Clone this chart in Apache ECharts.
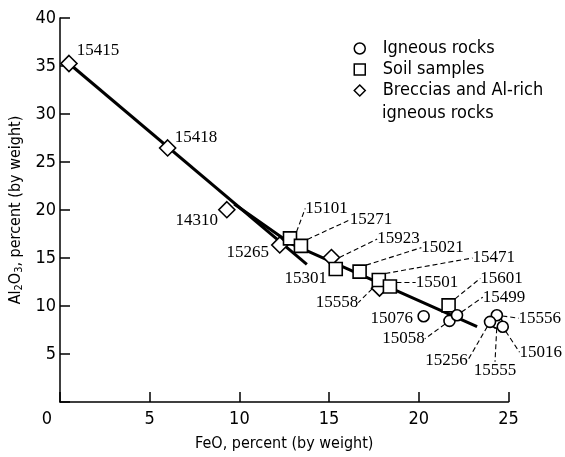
<!DOCTYPE html>
<html>
<head>
<meta charset="utf-8">
<script src="https://cdn.jsdelivr.net/npm/echarts@6/dist/echarts.min.js"></script>
<style>
  html, body { margin: 0; padding: 0; background: #fff; }
  #chart { width: 565px; height: 457px; }
</style>
</head>
<body>
<div id="chart"></div>
<script>
// ---- Data ----
const igneousNames = ['15555', '15076', '15058', '15499', '15556', '15256', '15016'];
const igneousFeO   = [24.36, 20.27, 21.71, 22.13, 24.35, 23.97, 24.68];
const igneousAl2O3 = [8.25, 8.94, 8.45, 9.04, 9.04, 8.35, 7.84];

const soilNames = ['15101', '15271', '15301', '15021', '15471', '15501', '15601'];
const soilFeO   = [12.82, 13.43, 15.37, 16.70, 17.77, 18.39, 21.66];
const soilAl2O3 = [17.04, 16.26, 13.85, 13.58, 12.71, 12.03, 10.07];

const brecciaNames = ['15415', '15418', '14310', '15265', '15923', '15558'];
const brecciaFeO   = [0.5, 6.0, 9.3, 12.25, 15.13, 17.81];
const brecciaAl2O3 = [35.26, 26.46, 20.03, 16.36, 15.05, 11.86];

const lineA_FeO   = [0.5, 13.76];
const lineA_Al2O3 = [35.26, 14.33];
const lineB_FeO   = [9.71, 12.87, 23.25];
const lineB_Al2O3 = [20.62, 16.49, 7.84];

const seriesNames = ['Igneous rocks', 'Soil samples', 'Breccias and Al-rich igneous rocks'];
const xTickStep = 5, xMin = 0, xMax = 25;
const yTickStep = 5, yMin = 0, yMax = 40;

// ---- Label placement (pixel offsets of each sample label from its marker) ----
const labelOffsets = {
  '15415': [29, -12.5], '15418': [28.4, -10], '14310': [-30, 10.5], '15265': [-32, 8],
  '15923': [67, -18.5], '15558': [-42.5, 14.5],
  '15101': [36.5, -30], '15271': [70, -26], '15301': [-30, 9], '15021': [83, -24],
  '15471': [115, -22], '15501': [47, -4], '15601': [53, -27],
  '15076': [-32, 2], '15058': [-46, 18], '15499': [47, -18], '15556': [43, 3],
  '15256': [-43.5, 38.5], '15555': [-2, 47.5], '15016': [38, 25.5]
};
const noLeader = ['15415', '15418', '14310', '15265', '15301', '15076'];

const SANS = '"DejaVu Sans Condensed", "Liberation Sans Narrow", sans-serif';
const NARROW = '"Liberation Sans Narrow", "DejaVu Sans Condensed", sans-serif';
const SERIF = '"Liberation Serif", "DejaVu Serif", serif';

function buildPoints(names, xs, ys) {
  return names.map((n, i) => ({
    name: n,
    value: [xs[i], ys[i]],
    labelLine: { show: noLeader.indexOf(n) < 0 }
  }));
}
function pairs(xs, ys) { return xs.map((x, i) => [x, ys[i]]); }

const markerStyle = { color: '#ffffff', borderColor: '#000000', borderWidth: 1.6, opacity: 1 };
const labelCfg = {
  show: true, position: 'inside', formatter: '{b}',
  fontFamily: SERIF, fontSize: 17, color: '#000'
};
const leaderCfg = { show: true, lineStyle: { color: '#000', width: 1.1, type: [5, 3] } };
function layoutFn(params) {
  const off = labelOffsets[params.text] || [0, 0];
  return { dx: off[0], dy: off[1] };
}

const chart = echarts.init(document.getElementById('chart'), null, { renderer: 'canvas' });
chart.setOption({
  animation: false,
  backgroundColor: '#ffffff',
  grid: { left: 58, right: 56.5, top: 18, bottom: 51 },
  xAxis: {
    type: 'value', min: xMin, max: xMax, interval: xTickStep,
    name: 'FeO, percent (by weight)', nameLocation: 'middle', nameGap: 34,
    nameTextStyle: { fontFamily: SANS, fontSize: 16, color: '#000' },
    axisLine: { lineStyle: { color: '#000', width: 1.5 } },
    axisTick: { inside: true, length: 10, lineStyle: { color: '#000', width: 1.5 } },
    axisLabel: {
      margin: 8, fontFamily: NARROW, fontSize: 18, color: '#000',
      formatter: v => (v === 0 ? '{z|0}' : String(v)),
      rich: { z: { fontFamily: NARROW, fontSize: 18, color: '#000', padding: [0, 26, 0, 0] } }
    },
    splitLine: { show: false }
  },
  yAxis: {
    type: 'value', min: yMin, max: yMax, interval: yTickStep,
    name: 'Al{sub|2}O{sub|3}, percent (by weight)', nameLocation: 'middle', nameGap: 31,
    nameTextStyle: {
      fontFamily: SANS, fontSize: 16, color: '#000',
      rich: { sub: { fontFamily: SANS, fontSize: 11, color: '#000', verticalAlign: 'bottom', padding: [6, 0, 0, 0] } }
    },
    axisLine: { lineStyle: { color: '#000', width: 1.5 } },
    axisTick: { inside: true, length: 10, lineStyle: { color: '#000', width: 1.5 } },
    axisLabel: {
      margin: 4, fontFamily: NARROW, fontSize: 18, color: '#000',
      formatter: v => (v === 0 ? '' : String(v))
    },
    splitLine: { show: false }
  },
  legend: {
    orient: 'vertical', left: 353.5, top: 38, padding: 0, itemGap: 0,
    itemWidth: 11, itemHeight: 11,
    itemStyle: { borderWidth: 1.5 },
    data: seriesNames,
    formatter: n => (n === seriesNames[2] ? 'Breccias and Al-rich' : n),
    textStyle: { fontFamily: SANS, fontSize: 18, color: '#000', lineHeight: 21, padding: [0, 0, 0, 12.5] }
  },
  graphic: [{
    type: 'text', left: 382, top: 104,
    style: { text: 'igneous rocks', fontFamily: SANS, fontSize: 18, fill: '#000' }
  }],
  series: [
    {
      type: 'line', data: pairs(lineA_FeO, lineA_Al2O3), symbol: 'none', silent: true,
      lineStyle: { color: '#000', width: 3 }, z: 1
    },
    {
      type: 'line', data: pairs(lineB_FeO, lineB_Al2O3), symbol: 'none', silent: true,
      lineStyle: { color: '#000', width: 3 }, z: 1
    },
    {
      name: seriesNames[2], type: 'scatter', symbol: 'diamond', symbolSize: [16, 16],
      data: buildPoints(brecciaNames, brecciaFeO, brecciaAl2O3),
      itemStyle: markerStyle, label: labelCfg, labelLine: leaderCfg, labelLayout: layoutFn, z: 3
    },
    {
      name: seriesNames[1], type: 'scatter', symbol: 'rect', symbolSize: 13,
      data: buildPoints(soilNames, soilFeO, soilAl2O3),
      itemStyle: markerStyle, label: labelCfg, labelLine: leaderCfg, labelLayout: layoutFn, z: 4
    },
    {
      name: seriesNames[0], type: 'scatter', symbol: 'circle', symbolSize: 11,
      data: buildPoints(igneousNames, igneousFeO, igneousAl2O3),
      itemStyle: markerStyle, label: labelCfg, labelLine: leaderCfg, labelLayout: layoutFn, z: 5
    }
  ]
});
</script>
</body>
</html>
